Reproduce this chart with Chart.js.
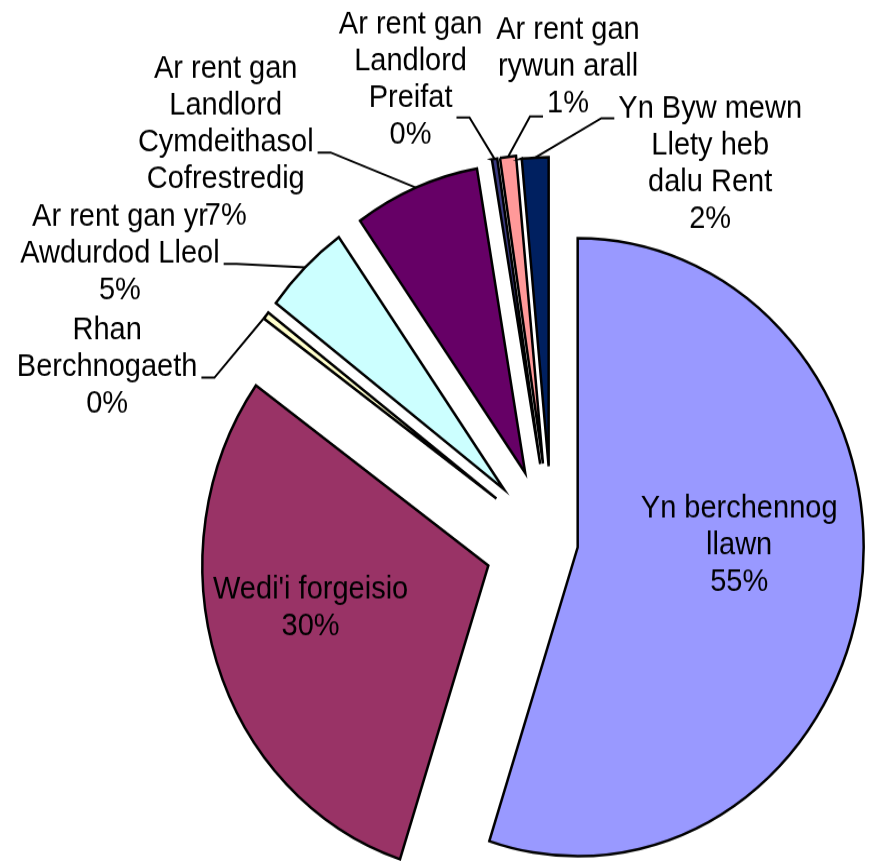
<!DOCTYPE html>
<html>
<head>
<meta charset="utf-8">
<script src="https://cdn.jsdelivr.net/npm/chart.js@4.4.1/dist/chart.umd.min.js"></script>
<style>
    html, body { margin: 0; padding: 0; background: #fff; }
    #outer { width: 874px; height: 861px; overflow: hidden; }
    /* the original picture is a little taller than wide, so stretch the canvas */
    #wrap { width: 874px; height: 797px; transform: scaleY(1.0803); transform-origin: 0 0; }
</style>
</head>
<body>
<div id="outer"><div id="wrap"><canvas id="chart1"></canvas></div></div>
<script>
const categories = [
    'Yn berchennog llawn',
    "Wedi'i forgeisio",
    'Rhan Berchnogaeth',
    'Ar rent gan yr Awdurdod Lleol',
    'Ar rent gan Landlord Cymdeithasol Cofrestredig',
    'Ar rent gan Landlord Preifat',
    'Ar rent gan rywun arall',
    'Yn Byw mewn Llety heb dalu Rent'
];
const shares = [55.0, 29.9, 0.4, 4.9, 7.1, 0.3, 0.9, 1.5];
const labelLines = [
    ['Yn berchennog', 'llawn'],
    ["Wedi'i forgeisio"],
    ['Rhan', 'Berchnogaeth'],
    ['Ar rent gan yr', 'Awdurdod Lleol'],
    ['Ar rent gan', 'Landlord', 'Cymdeithasol', 'Cofrestredig'],
    ['Ar rent gan', 'Landlord', 'Preifat'],
    ['Ar rent gan', 'rywun arall'],
    ['Yn Byw mewn', 'Llety heb', 'dalu Rent']
];

const sliceColors = ['#9999FF', '#993366', '#FFFFCC', '#CCFFFF', '#660066', '#3a3a80', '#FF9999', '#002060'];
const explodeBy = [26, 67, 69, 69, 70, 74, 74, 71];
// label centre, relative to the middle of each slice's outer edge
const labelShift = [[-121, -46], [94, -50], [-159, 48], [-185, -13], [-190, -42], [-84, -73], [60, -83], [175, 6]];
const leaders = [null, null,
    {line: 1, side: 'right'},
    {line: 1, side: 'right'},
    {line: 2, side: 'right'},
    {line: 2, side: 'right', dy: 8},
    {line: 2, side: 'left', dy: 2},
    {line: 0, side: 'left', dy: -1}
];
const FONT_SIZE = 29;
const LINE_H = 34;

const explodePlugin = {
    id: 'explode',
    afterDatasetsUpdate(chart) {
        chart.getDatasetMeta(0).data.forEach((arc, i) => {
            const mid = (arc.startAngle + arc.endAngle) / 2;
            arc.x += Math.cos(mid) * explodeBy[i];
            arc.y += Math.sin(mid) * explodeBy[i];
        });
    }
};

const labelPlugin = {
    id: 'sliceLabels',
    afterDatasetsDraw(chart) {
        const ctx = chart.ctx;
        ctx.save();
        ctx.font = FONT_SIZE + 'px "Liberation Sans", Arial, sans-serif';
        ctx.fillStyle = '#000';
        ctx.strokeStyle = '#000';
        ctx.lineWidth = 2;
        ctx.textAlign = 'center';
        ctx.textBaseline = 'middle';
        chart.getDatasetMeta(0).data.forEach((arc, i) => {
            const mid = (arc.startAngle + arc.endAngle) / 2;
            const ax = arc.x + Math.cos(mid) * arc.outerRadius;
            const ay = arc.y + Math.sin(mid) * arc.outerRadius;
            const lines = labelLines[i].concat(Math.round(shares[i]) + '%');
            const cx = ax + labelShift[i][0];
            const cy = ay + labelShift[i][1];
            const top = cy - (lines.length - 1) / 2 * LINE_H;
            lines.forEach((t, j) => ctx.fillText(t, cx, top + j * LINE_H));

            const ld = leaders[i];
            if (ld) {
                const w = ctx.measureText(lines[ld.line]).width;
                const dir = ld.side === 'right' ? 1 : -1;
                const x0 = cx + dir * (w / 2 + 4);
                const x1 = x0 + dir * 13;
                const y = top + ld.line * LINE_H + FONT_SIZE * 0.33 + (ld.dy || 0);
                ctx.beginPath();
                ctx.moveTo(x0, y);
                ctx.lineTo(x1, y);
                ctx.lineTo(ax, ay);
                ctx.stroke();
            }
        });
        ctx.restore();
    }
};

new Chart(document.getElementById('chart1'), {
    type: 'pie',
    data: {
        labels: categories,
        datasets: [{
            data: shares,
            backgroundColor: sliceColors,
            borderColor: '#000',
            borderWidth: 2.5,
            borderJoinStyle: 'miter',
            radius: 286
        }]
    },
    options: {
        responsive: true,
        maintainAspectRatio: false,
        animation: false,
        events: [],
        layout: {
            padding: {left: 230, right: 0, top: 208, bottom: 0}
        },
        plugins: {
            legend: {display: false},
            tooltip: {enabled: false}
        }
    },
    plugins: [explodePlugin, labelPlugin]
});
</script>
</body>
</html>
